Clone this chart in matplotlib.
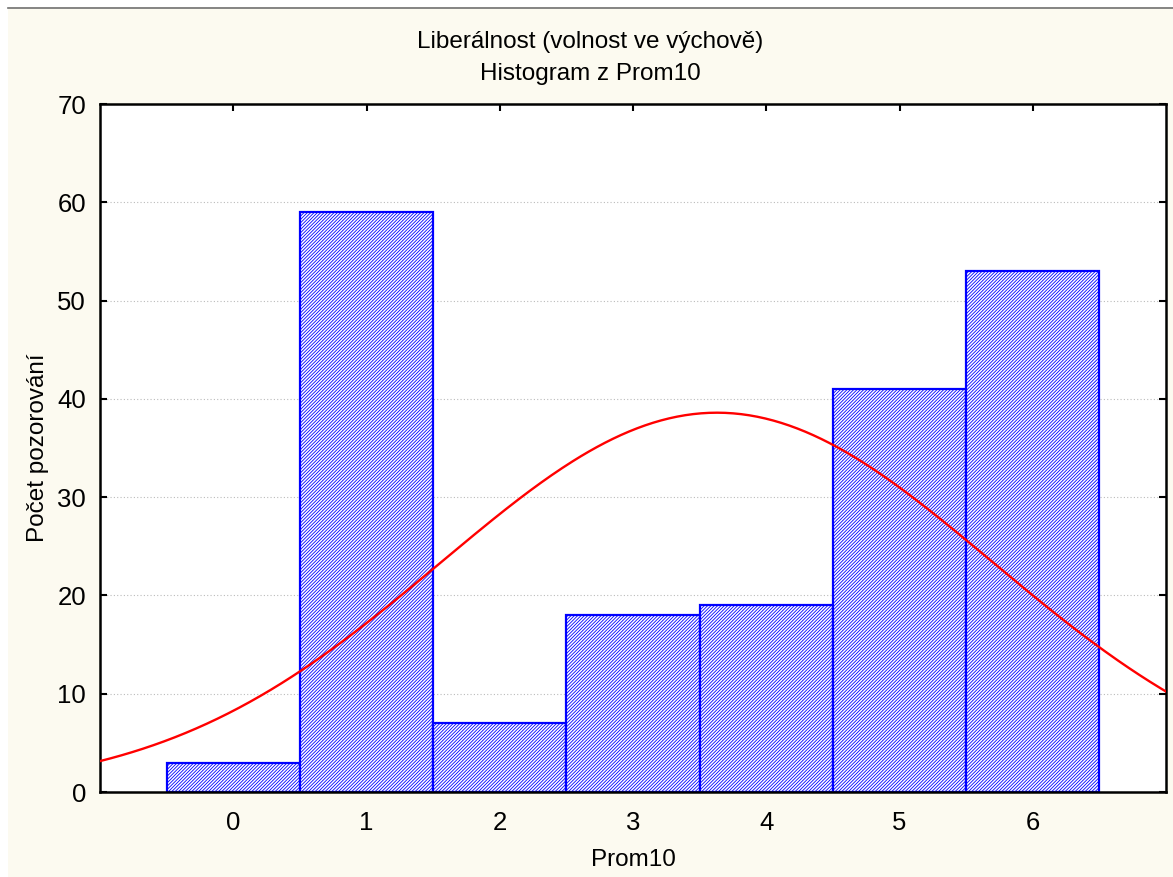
import numpy as np
import matplotlib
matplotlib.use("Agg")
import matplotlib.pyplot as plt
from matplotlib.patches import Rectangle
from matplotlib.lines import Line2D

plt.rcParams['font.family'] = ['Liberation Sans', 'DejaVu Sans']
plt.rcParams['hatch.color'] = '#0000FF'
plt.rcParams['hatch.linewidth'] = 0.6

# Histogram data
categories = [0, 1, 2, 3, 4, 5, 6]
counts = [3, 59, 7, 18, 19, 41, 53]
x_ticks = [0, 1, 2, 3, 4, 5, 6]
y_ticks = [0, 10, 20, 30, 40, 50, 60, 70]

title_text = "Liberálnost (volnost ve výchově)\nHistogram z Prom10"
x_label = "Prom10"
y_label = "Počet pozorování"

bg = '#FCFAF0'
fig = plt.figure(figsize=(11.73, 8.77), dpi=100, facecolor=bg)

# thin white frame strips at the top and left edges
fig.patches.append(Rectangle((0, 1 - 7 / 877), 1, 7 / 877, transform=fig.transFigure,
                             facecolor='white', edgecolor='none', zorder=0))
fig.patches.append(Rectangle((0, 0), 8 / 1173, 1, transform=fig.transFigure,
                             facecolor='white', edgecolor='none', zorder=0))
fig.lines.append(Line2D([8 / 1173, 1], [1 - 7.5 / 877, 1 - 7.5 / 877], transform=fig.transFigure,
                        color='#707070', lw=1.2))

ax = fig.add_axes([100 / 1173, 85 / 877, 1066 / 1173, 688 / 877])
ax.set_facecolor('white')

ax.bar(categories, counts, width=1.0, facecolor='white', edgecolor='#0000FF',
       linewidth=1.6, hatch='//////////', zorder=2)

# Normal curve fitted to the counts
vals = np.array(categories, dtype=float)
n = np.array(counts, dtype=float)
N = n.sum()
mean = (vals * n).sum() / N
sd = np.sqrt(((vals - mean) ** 2 * n).sum() / (N - 1))
xs = np.linspace(-1, 7, 400)
ys = N * 1.0 / (sd * np.sqrt(2 * np.pi)) * np.exp(-0.5 * ((xs - mean) / sd) ** 2)
ax.plot(xs, ys, color='#FF0000', lw=1.7, zorder=3)

ax.set_xlim(-1, 7)
ax.set_ylim(0, 70)
ax.set_xticks(x_ticks)
ax.set_yticks(y_ticks)
ax.yaxis.grid(True, linestyle=(0, (1, 2)), color='#BBBBBB', lw=0.8, zorder=1)
ax.set_axisbelow(True)

ax.tick_params(axis='x', direction='in', top=True, length=5, width=1.5, labelsize=18.5, pad=14)
ax.tick_params(axis='y', direction='in', right=True, length=5, width=1.5, labelsize=18.5, pad=10)
for s in ax.spines.values():
    s.set_linewidth(1.8)
    s.set_color('black')

ax.set_xlabel(x_label, fontsize=17.5, labelpad=10)
ax.set_ylabel(y_label, fontsize=17.5, labelpad=6)
fig.text(0.503, 0.965, title_text, ha='center', va='top', fontsize=17.5, linespacing=1.6)

fig.savefig('out.png', dpi=100, facecolor=bg)
